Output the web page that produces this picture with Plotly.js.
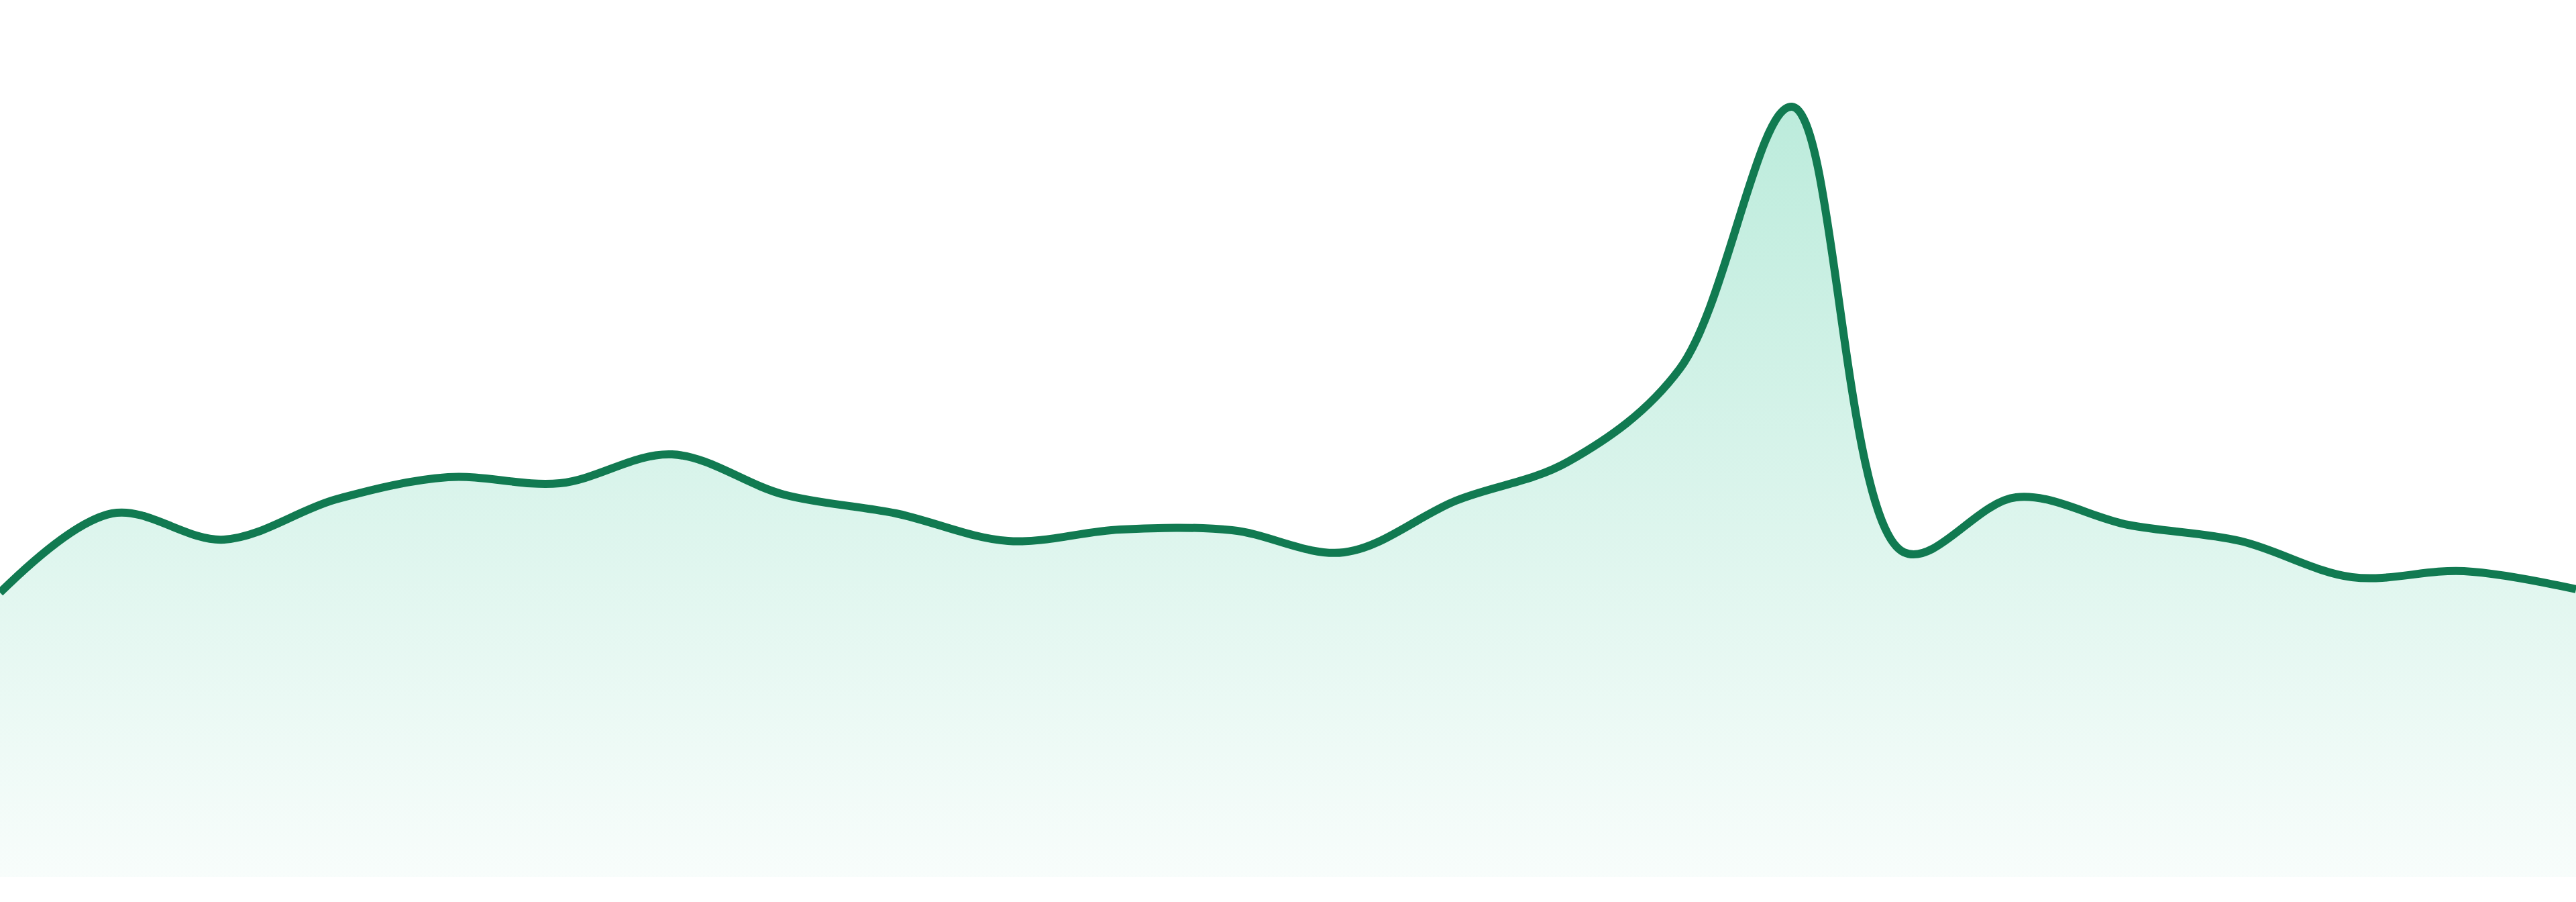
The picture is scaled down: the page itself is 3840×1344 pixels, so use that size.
<!DOCTYPE html>
<html>
<head>
<meta charset="utf-8">
<script src="https://cdn.plot.ly/plotly-3.0.1.min.js"></script>
<style>
    html, body { margin: 0; padding: 0; background: #ffffff; }
    #plot { width: 3840px; height: 1344px; }
</style>
</head>
<body>
<div id="plot"></div>
<script>
// one value per period
const periods = [0, 1, 2, 3, 4, 5, 6, 7, 8, 9, 10, 11, 12, 13, 14, 15, 16, 17, 18, 19, 20, 21, 22, 23]
const values = [42.4, 54.2, 50.3, 56.3, 59.6, 58.7, 63.0, 57.0, 54.2, 50.1, 51.8, 51.7,
                48.4, 56.1, 61.9, 75.8, 114.8, 48.4, 56.6, 52.5, 50.1, 44.7, 45.6, 42.9]

const lineColor = '#117a51'

function draw() {
    const trace = {
        x: periods,
        y: values,
        type: 'scatter',
        mode: 'lines',
        fill: 'tozeroy',
        fillgradient: {
            type: 'vertical',
            colorscale: [
                [0, 'rgba(16, 185, 129, 0.03)'],
                [1, 'rgba(16, 185, 129, 0.28)']
            ]
        },
        line: {
            color: lineColor,
            width: 12,
            shape: 'spline',
            smoothing: 1
        },
        hoverinfo: 'skip'
    }

    const layout = {
        width: 3840,
        height: 1344,
        margin: { l: 0, r: 0, t: 0, b: 37, pad: 0 },
        paper_bgcolor: '#ffffff',
        plot_bgcolor: '#ffffff',
        showlegend: false,
        xaxis: {
            range: [0, 23],
            visible: false,
            fixedrange: true
        },
        yaxis: {
            range: [0, 130.7],
            visible: false,
            fixedrange: true
        }
    }

    Plotly.newPlot('plot', [trace], layout, { staticPlot: true, displayModeBar: false })
}

draw()
</script>
</body>
</html>
